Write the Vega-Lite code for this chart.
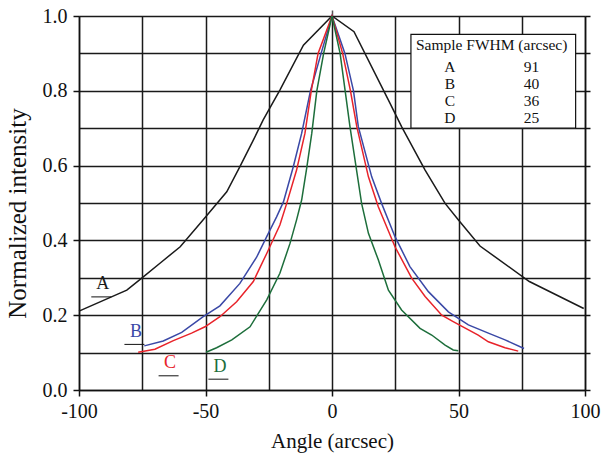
{
  "$schema": "https://vega.github.io/schema/vega-lite/v6.json",
  "width": 506,
  "height": 374,
  "autosize": {"type": "none"},
  "padding": {"left": 79, "top": 16, "right": 17, "bottom": 65},
  "background": "white",
  "config": {
    "view": {"stroke": null},
    "font": "Liberation Serif",
    "axis": {"labelFont": "Liberation Serif", "titleFont": "Liberation Serif"},
    "text": {"font": "Liberation Serif"}
  },
  "datasets": {
    "curves": [
      {"sample": "A", "angle": -100, "intensity": 0.211},
      {"sample": "A", "angle": -83.8, "intensity": 0.259},
      {"sample": "A", "angle": -81.1, "intensity": 0.267},
      {"sample": "A", "angle": -75.2, "intensity": 0.299},
      {"sample": "A", "angle": -68, "intensity": 0.339},
      {"sample": "A", "angle": -60, "intensity": 0.383},
      {"sample": "A", "angle": -50.9, "intensity": 0.455},
      {"sample": "A", "angle": -41.6, "intensity": 0.53},
      {"sample": "A", "angle": -36.4, "intensity": 0.597},
      {"sample": "A", "angle": -31.1, "intensity": 0.668},
      {"sample": "A", "angle": -27.2, "intensity": 0.722},
      {"sample": "A", "angle": -20.6, "intensity": 0.802},
      {"sample": "A", "angle": -11.3, "intensity": 0.922},
      {"sample": "A", "angle": 0, "intensity": 1.0},
      {"sample": "A", "angle": 8.7, "intensity": 0.958},
      {"sample": "A", "angle": 22.9, "intensity": 0.767},
      {"sample": "A", "angle": 27.5, "intensity": 0.704},
      {"sample": "A", "angle": 36.8, "intensity": 0.588},
      {"sample": "A", "angle": 44.7, "intensity": 0.499},
      {"sample": "A", "angle": 49.9, "intensity": 0.455},
      {"sample": "A", "angle": 58.5, "intensity": 0.385},
      {"sample": "A", "angle": 78, "intensity": 0.29},
      {"sample": "A", "angle": 99.5, "intensity": 0.218},
      {"sample": "B", "angle": -74.2, "intensity": 0.118},
      {"sample": "B", "angle": -66.7, "intensity": 0.131},
      {"sample": "B", "angle": -59.4, "intensity": 0.154},
      {"sample": "B", "angle": -50.9, "intensity": 0.196},
      {"sample": "B", "angle": -44.3, "intensity": 0.225},
      {"sample": "B", "angle": -36.4, "intensity": 0.285},
      {"sample": "B", "angle": -29.8, "intensity": 0.355},
      {"sample": "B", "angle": -25.8, "intensity": 0.41},
      {"sample": "B", "angle": -21.9, "intensity": 0.463},
      {"sample": "B", "angle": -19.2, "intensity": 0.503},
      {"sample": "B", "angle": -15.3, "intensity": 0.597},
      {"sample": "B", "angle": -12, "intensity": 0.686},
      {"sample": "B", "angle": -8.5, "intensity": 0.8},
      {"sample": "B", "angle": -4.3, "intensity": 0.9},
      {"sample": "B", "angle": 0, "intensity": 1.0},
      {"sample": "B", "angle": 5.1, "intensity": 0.9},
      {"sample": "B", "angle": 8.5, "intensity": 0.8},
      {"sample": "B", "angle": 10.4, "intensity": 0.704},
      {"sample": "B", "angle": 15.7, "intensity": 0.57},
      {"sample": "B", "angle": 19.6, "intensity": 0.499},
      {"sample": "B", "angle": 24.9, "intensity": 0.41},
      {"sample": "B", "angle": 30.8, "intensity": 0.33},
      {"sample": "B", "angle": 38.1, "intensity": 0.263},
      {"sample": "B", "angle": 46, "intensity": 0.209},
      {"sample": "B", "angle": 53.9, "intensity": 0.174},
      {"sample": "B", "angle": 61.8, "intensity": 0.152},
      {"sample": "B", "angle": 68.4, "intensity": 0.134},
      {"sample": "B", "angle": 75.9, "intensity": 0.111},
      {"sample": "C", "angle": -76.6, "intensity": 0.101},
      {"sample": "C", "angle": -70, "intensity": 0.109},
      {"sample": "C", "angle": -62.7, "intensity": 0.132},
      {"sample": "C", "angle": -55.5, "intensity": 0.152},
      {"sample": "C", "angle": -50.2, "intensity": 0.169},
      {"sample": "C", "angle": -44.3, "intensity": 0.196},
      {"sample": "C", "angle": -37.7, "intensity": 0.236},
      {"sample": "C", "angle": -31.1, "intensity": 0.29},
      {"sample": "C", "angle": -25.8, "intensity": 0.365},
      {"sample": "C", "angle": -20.6, "intensity": 0.441},
      {"sample": "C", "angle": -17.9, "intensity": 0.499},
      {"sample": "C", "angle": -14, "intensity": 0.588},
      {"sample": "C", "angle": -10.7, "intensity": 0.686},
      {"sample": "C", "angle": -8.2, "intensity": 0.8},
      {"sample": "C", "angle": -5.5, "intensity": 0.9},
      {"sample": "C", "angle": 0, "intensity": 1.0},
      {"sample": "C", "angle": 4.2, "intensity": 0.9},
      {"sample": "C", "angle": 7.3, "intensity": 0.8},
      {"sample": "C", "angle": 9.8, "intensity": 0.704},
      {"sample": "C", "angle": 14.4, "intensity": 0.57},
      {"sample": "C", "angle": 18.3, "intensity": 0.49},
      {"sample": "C", "angle": 24.9, "intensity": 0.383},
      {"sample": "C", "angle": 31.5, "intensity": 0.299},
      {"sample": "C", "angle": 36.8, "intensity": 0.25},
      {"sample": "C", "angle": 43.4, "intensity": 0.2},
      {"sample": "C", "angle": 47.9, "intensity": 0.183},
      {"sample": "C", "angle": 57.8, "intensity": 0.147},
      {"sample": "C", "angle": 61.8, "intensity": 0.129},
      {"sample": "C", "angle": 68.4, "intensity": 0.113},
      {"sample": "C", "angle": 73.6, "intensity": 0.104},
      {"sample": "D", "angle": -49.8, "intensity": 0.101},
      {"sample": "D", "angle": -45.6, "intensity": 0.113},
      {"sample": "D", "angle": -39.6, "intensity": 0.134},
      {"sample": "D", "angle": -32.4, "intensity": 0.169},
      {"sample": "D", "angle": -25.8, "intensity": 0.241},
      {"sample": "D", "angle": -20.6, "intensity": 0.312},
      {"sample": "D", "angle": -16.6, "intensity": 0.392},
      {"sample": "D", "angle": -14, "intensity": 0.455},
      {"sample": "D", "angle": -12, "intensity": 0.508},
      {"sample": "D", "angle": -10, "intensity": 0.593},
      {"sample": "D", "angle": -8, "intensity": 0.686},
      {"sample": "D", "angle": -6, "intensity": 0.8},
      {"sample": "D", "angle": -3.3, "intensity": 0.9},
      {"sample": "D", "angle": 0, "intensity": 1.0},
      {"sample": "D", "angle": 3.2, "intensity": 0.9},
      {"sample": "D", "angle": 5.2, "intensity": 0.8},
      {"sample": "D", "angle": 7.1, "intensity": 0.704},
      {"sample": "D", "angle": 11.7, "intensity": 0.499},
      {"sample": "D", "angle": 14.4, "intensity": 0.419},
      {"sample": "D", "angle": 18.3, "intensity": 0.348},
      {"sample": "D", "angle": 22.3, "intensity": 0.267},
      {"sample": "D", "angle": 27.5, "intensity": 0.214},
      {"sample": "D", "angle": 34.8, "intensity": 0.165},
      {"sample": "D", "angle": 39.4, "intensity": 0.147},
      {"sample": "D", "angle": 44.7, "intensity": 0.12},
      {"sample": "D", "angle": 47.9, "intensity": 0.107},
      {"sample": "D", "angle": 49.9, "intensity": 0.105}
    ],
    "tags": [
      {"sample": "A", "angle": -90.6, "intensity": 0.269},
      {"sample": "B", "angle": -77.5, "intensity": 0.142},
      {"sample": "C", "angle": -64.0, "intensity": 0.058},
      {"sample": "D", "angle": -44.3, "intensity": 0.049}
    ],
    "table": [
      {"sample": "A", "fwhm": 91},
      {"sample": "B", "fwhm": 40},
      {"sample": "C", "fwhm": 36},
      {"sample": "D", "fwhm": 25}
    ]
  },
  "layer": [
    {
      "data": {"name": "curves"},
      "mark": {"type": "line", "strokeWidth": 1.5},
      "encoding": {
        "x": {
          "field": "angle", "type": "quantitative",
          "scale": {"domain": [-100, 100], "nice": false, "zero": false},
          "axis": {
            "orient": "bottom",
            "values": [-100, -75, -50, -25, 0, 25, 50, 75, 100],
            "labelExpr": "datum.value % 50 === 0 ? toString(datum.value) : ''",
            "tickOpacity": {"condition": {"test": "datum.value % 50 === 0", "value": 1}, "value": 0},
            "tickSize": 6, "tickWidth": 1.5, "tickColor": "#111",
            "grid": true, "gridColor": "#1a1a1a", "gridWidth": 1.5,
            "domainColor": "#111", "domainWidth": 1.5,
            "labelFontSize": 20, "labelColor": "#111", "labelPadding": 5,
            "labelFlush": false, "labelOverlap": false,
            "title": "Angle (arcsec)", "titleFontSize": 21, "titleFontWeight": "normal",
            "titleColor": "#111", "titlePadding": 9
          }
        },
        "y": {
          "field": "intensity", "type": "quantitative",
          "scale": {"domain": [0, 1], "nice": false},
          "axis": {
            "orient": "left",
            "values": [0, 0.1, 0.2, 0.3, 0.4, 0.5, 0.6, 0.7, 0.8, 0.9, 1.0],
            "labelExpr": "round(datum.value * 10) % 2 === 0 ? format(datum.value, '.1f') : ''",
            "tickOpacity": {"condition": {"test": "round(datum.value * 10) % 2 === 0", "value": 1}, "value": 0},
            "tickSize": 6, "tickWidth": 1.5, "tickColor": "#111",
            "grid": true, "gridColor": "#1a1a1a", "gridWidth": 1.5,
            "domainColor": "#111", "domainWidth": 1.5,
            "labelFontSize": 20, "labelColor": "#111", "labelPadding": 6,
            "labelFlush": false, "labelOverlap": false,
            "title": "Normalized intensity", "titleFontSize": 25, "titleFontWeight": "normal",
            "titleColor": "#111", "titlePadding": 12, "titleY": 197
          }
        },
        "color": {
          "field": "sample", "type": "nominal",
          "scale": {"domain": ["A", "B", "C", "D"], "range": ["#1a1a1a", "#3a48a6", "#e8232a", "#1d6e3b"]},
          "legend": null
        }
      }
    },
    {
      "data": {"name": "tags"},
      "mark": {"type": "text", "fontSize": 18, "align": "center", "baseline": "alphabetic"},
      "encoding": {
        "x": {
          "field": "angle", "type": "quantitative",
          "axis": {"orient": "top", "values": [0], "labels": false, "domain": false, "grid": false,
                   "ticks": true, "tickSize": 6, "tickColor": "#555", "tickWidth": 1.5, "title": null}
        },
        "y": {
          "field": "intensity", "type": "quantitative",
          "axis": {"orient": "right", "values": [0, 0.1, 0.2, 0.3, 0.4, 0.5, 0.6, 0.7, 0.8, 0.9, 1.0],
                   "labels": false, "grid": false, "domain": true, "domainColor": "#111", "domainWidth": 1.5,
                   "ticks": true, "tickSize": 5, "tickColor": "#111", "tickWidth": 1.5, "title": null}
        },
        "text": {"field": "sample"},
        "color": {"field": "sample", "type": "nominal", "legend": null}
      }
    },
    {
      "data": {"name": "tags"},
      "mark": {"type": "rule", "color": "#111", "strokeWidth": 1, "xOffset": -11.5, "x2Offset": 8.5, "yOffset": 7.5},
      "encoding": {
        "x": {"field": "angle", "type": "quantitative", "axis": null},
        "x2": {"field": "angle"},
        "y": {"field": "intensity", "type": "quantitative", "axis": null}
      }
    },
    {
      "data": {"values": [{}]},
      "mark": {"type": "rect", "fill": "white", "stroke": "#111", "strokeWidth": 1.2},
      "encoding": {
        "x": {"datum": 31.2, "type": "quantitative", "axis": null},
        "x2": {"datum": 96.3},
        "y": {"datum": 0.951, "type": "quantitative", "axis": null},
        "y2": {"datum": 0.700}
      }
    },
    {
      "data": {"values": [{}]},
      "mark": {"type": "text", "text": "Sample FWHM (arcsec)", "fontSize": 15.5, "align": "center", "baseline": "alphabetic", "color": "#111"},
      "encoding": {
        "x": {"datum": 63.1, "type": "quantitative", "axis": null},
        "y": {"datum": 0.909, "type": "quantitative", "axis": null}
      }
    },
    {
      "data": {"name": "table"},
      "mark": {"type": "text", "fontSize": 15.5, "align": "center", "baseline": "alphabetic", "color": "#111"},
      "encoding": {
        "x": {"datum": 46.6, "type": "quantitative", "axis": null},
        "y": {"datum": 0.851, "type": "quantitative", "axis": null},
        "yOffset": {"field": "sample", "type": "nominal", "scale": {"type": "point", "domain": ["A", "B", "C", "D"], "range": [0, 51.6], "padding": 0}},
        "text": {"field": "sample"}
      }
    },
    {
      "data": {"name": "table"},
      "mark": {"type": "text", "fontSize": 15.5, "align": "center", "baseline": "alphabetic", "color": "#111"},
      "encoding": {
        "x": {"datum": 78.9, "type": "quantitative", "axis": null},
        "y": {"datum": 0.851, "type": "quantitative", "axis": null},
        "yOffset": {"field": "sample", "type": "nominal", "scale": {"type": "point", "domain": ["A", "B", "C", "D"], "range": [0, 51.6], "padding": 0}},
        "text": {"field": "fwhm"}
      }
    }
  ],
  "resolve": {"axis": {"x": "independent", "y": "independent"}}
}
